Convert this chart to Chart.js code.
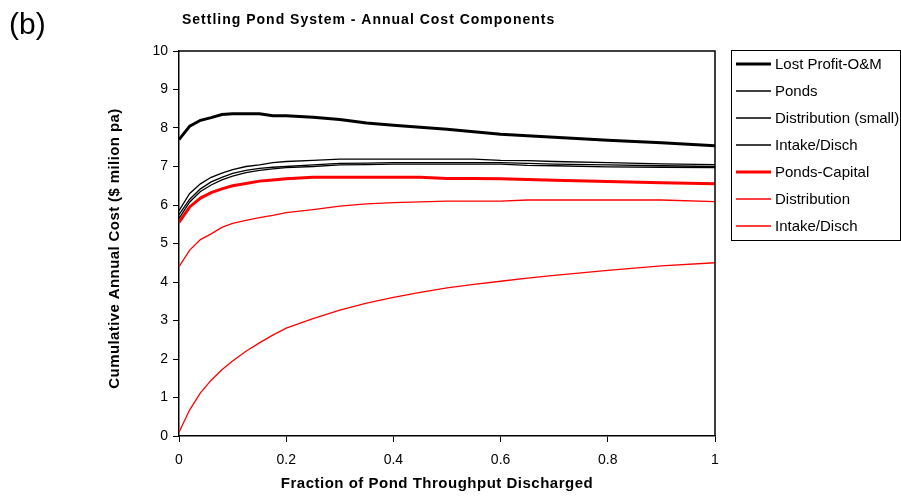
<!DOCTYPE html>
<html>
<head>
<meta charset="utf-8">
<script src="https://cdn.jsdelivr.net/npm/chart.js@4.4.1/dist/chart.umd.min.js"></script>
<style>
  html, body { margin: 0; padding: 0; background: #fff; }
  #wrap { position: relative; width: 901px; height: 499px; }
</style>
</head>
<body>
<div id="wrap"><canvas id="chart" width="901" height="499"></canvas></div>
<script>
// fraction of pond throughput discharged
const fractions = [0, 0.02, 0.04, 0.06, 0.08, 0.1, 0.125, 0.15, 0.175, 0.2, 0.25, 0.3, 0.35, 0.4, 0.45, 0.5, 0.55, 0.6, 0.65, 0.7, 0.8, 0.9, 1];

const lostProfitOM = [7.7, 8.05, 8.2, 8.27, 8.35, 8.37, 8.37, 8.37, 8.32, 8.32, 8.28, 8.22, 8.13, 8.07, 8.02, 7.97, 7.9, 7.84, 7.8, 7.76, 7.68, 7.62, 7.54];
const ponds = [5.85, 6.3, 6.55, 6.72, 6.83, 6.92, 7.0, 7.04, 7.1, 7.13, 7.16, 7.19, 7.19, 7.19, 7.19, 7.19, 7.19, 7.16, 7.15, 7.13, 7.1, 7.07, 7.05];
const distributionSmall = [5.75, 6.15, 6.42, 6.6, 6.72, 6.82, 6.9, 6.95, 6.98, 7.0, 7.04, 7.08, 7.09, 7.1, 7.1, 7.1, 7.1, 7.1, 7.08, 7.06, 7.04, 7.02, 7.0];
const intakeDischBlack = [5.65, 6.08, 6.35, 6.52, 6.65, 6.75, 6.84, 6.9, 6.94, 6.97, 7.0, 7.04, 7.05, 7.06, 7.06, 7.06, 7.06, 7.06, 7.03, 7.02, 6.99, 6.98, 6.97];
const pondsCapital = [5.55, 5.95, 6.18, 6.32, 6.42, 6.5, 6.56, 6.62, 6.65, 6.68, 6.72, 6.72, 6.72, 6.72, 6.72, 6.69, 6.69, 6.68, 6.66, 6.64, 6.61, 6.58, 6.55];
const distribution = [4.4, 4.83, 5.1, 5.25, 5.42, 5.52, 5.6, 5.67, 5.73, 5.8, 5.88, 5.97, 6.03, 6.06, 6.08, 6.1, 6.1, 6.1, 6.13, 6.13, 6.13, 6.13, 6.09];
const intakeDischRed = [0.1, 0.68, 1.12, 1.45, 1.72, 1.95, 2.2, 2.42, 2.62, 2.8, 3.05, 3.27, 3.45, 3.6, 3.73, 3.85, 3.94, 4.02, 4.1, 4.17, 4.3, 4.42, 4.5];

const seriesLabels = ["Lost Profit-O&M", "Ponds", "Distribution (small)", "Intake/Disch", "Ponds-Capital", "Distribution", "Intake/Disch"];
const xTicks = [0, 0.2, 0.4, 0.6, 0.8, 1];
const yTicks = [0, 1, 2, 3, 4, 5, 6, 7, 8, 9, 10];

const chartTitle = "Settling Pond System - Annual Cost Components";
const xTitle = "Fraction of Pond Throughput Discharged";
const yTitle = "Cumulative Annual Cost ($ milion pa)";

const FONT = "'Liberation Sans', Arial, sans-serif";

function series(label, values, color, width) {
  return {
    label,
    data: values.map((v, i) => ({ x: fractions[i], y: v })),
    borderColor: color,
    borderWidth: width,
    pointRadius: 0,
    tension: 0,
    fill: false,
  };
}

const datasets = [
  series(seriesLabels[0], lostProfitOM, "#000000", 3),
  series(seriesLabels[1], ponds, "#000000", 1.3),
  series(seriesLabels[2], distributionSmall, "#000000", 1.3),
  series(seriesLabels[3], intakeDischBlack, "#000000", 1.3),
  series(seriesLabels[4], pondsCapital, "#ff0000", 3),
  series(seriesLabels[5], distribution, "#ff0000", 1.3),
  series(seriesLabels[6], intakeDischRed, "#ff0000", 1.3),
];

// frame, titles, panel letter and legend box
const decorations = {
  id: "decorations",
  afterDraw(chart) {
    const { ctx, chartArea: a } = chart;
    ctx.save();
    ctx.strokeStyle = "#000";
    ctx.lineWidth = 1.5;
    ctx.beginPath();
    ctx.moveTo(a.left, a.top);
    ctx.lineTo(a.right, a.top);
    ctx.lineTo(a.right, a.bottom);
    ctx.stroke();

    ctx.fillStyle = "#000";
    ctx.textBaseline = "middle";
    ctx.textAlign = "left";
    ctx.font = "30px " + FONT;
    ctx.fillText("(b)", 9, 26);

    ctx.font = "bold 14px " + FONT;
    ctx.letterSpacing = "1px";
    ctx.fillText(chartTitle, 182, 20);

    ctx.textAlign = "center";
    ctx.font = "bold 15px " + FONT;
    ctx.letterSpacing = "0.5px";
    ctx.fillText(xTitle, 437, 484);

    ctx.save();
    ctx.translate(115, (a.top + a.bottom) / 2 + 5);
    ctx.rotate(-Math.PI / 2);
    ctx.letterSpacing = "0.4px";
    ctx.fillText(yTitle, 0, 0);
    ctx.restore();

    // legend
    ctx.letterSpacing = "0px";
    ctx.textAlign = "left";
    ctx.lineWidth = 1;
    ctx.strokeStyle = "#000";
    ctx.strokeRect(731.5, 50.5, 169, 190);
    ctx.font = "15px " + FONT;
    chart.data.datasets.forEach((ds, i) => {
      const y = 64 + 27 * i;
      ctx.strokeStyle = ds.borderColor;
      ctx.lineWidth = ds.borderWidth;
      ctx.beginPath();
      ctx.moveTo(736, y);
      ctx.lineTo(771, y);
      ctx.stroke();
      ctx.fillText(ds.label, 775, y + 1);
    });
    ctx.restore();
  },
};

new Chart(document.getElementById("chart"), {
  type: "line",
  data: { datasets },
  plugins: [decorations],
  options: {
    responsive: false,
    animation: false,
    layout: { padding: { left: 106, right: 186, top: 51, bottom: 6 } },
    plugins: { legend: { display: false }, tooltip: { enabled: false } },
    scales: {
      x: {
        type: "linear",
        min: 0,
        max: 1,
        afterBuildTicks: (s) => { s.ticks = xTicks.map((v) => ({ value: v })); },
        afterFit: (s) => { s.height = 499 - 436 - 6; },
        ticks: {
          color: "#000",
          font: { family: FONT, size: 14 },
          padding: 10,
          callback: (v) => String(v),
          maxRotation: 0,
        },
        grid: { drawOnChartArea: false, drawTicks: true, tickLength: 6, color: "#000", lineWidth: 1 },
        border: { display: true, color: "#000", width: 1.5 },
      },
      y: {
        min: 0,
        max: 10,
        afterBuildTicks: (s) => { s.ticks = yTicks.map((v) => ({ value: v })); },
        afterFit: (s) => { s.width = 179 - 106; },
        ticks: {
          color: "#000",
          font: { family: FONT, size: 14 },
          padding: 5,
        },
        grid: { drawOnChartArea: false, drawTicks: true, tickLength: 6, color: "#000", lineWidth: 1 },
        border: { display: true, color: "#000", width: 1.5 },
      },
    },
  },
});
</script>
</body>
</html>
